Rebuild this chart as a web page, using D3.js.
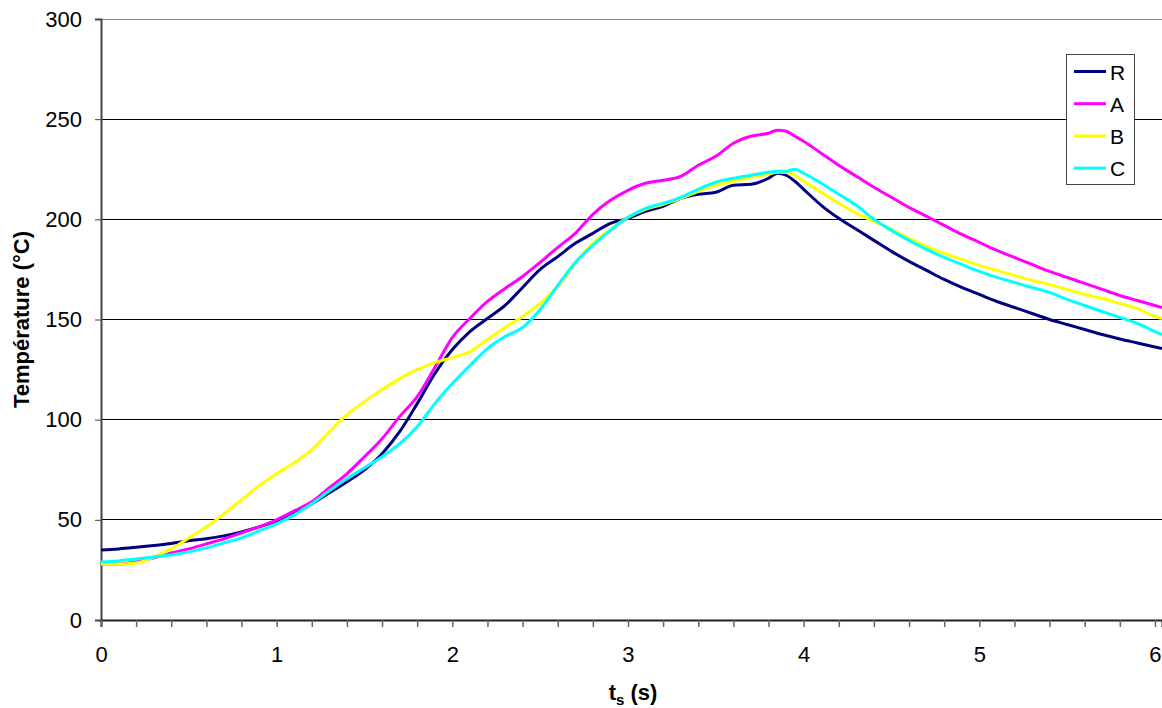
<!DOCTYPE html>
<html><head><meta charset="utf-8">
<script src="https://cdn.jsdelivr.net/npm/d3@7"></script>
<style>body{margin:0;background:#fff;font-family:"Liberation Sans",Arial,sans-serif;}</style>
</head><body>
<svg id="chart" width="1162" height="708"></svg>
<script>
const times = [0,0.1,0.2,0.3,0.4,0.5,0.6,0.7,0.8,0.9,1.0,1.1,1.2,1.3,1.4,1.5,1.6,1.7,1.8,1.9,2.0,2.1,2.2,2.3,2.4,2.5,2.6,2.7,2.8,2.9,3.0,3.1,3.2,3.3,3.4,3.5,3.6,3.7,3.8,3.85,3.9,3.95,4.0,4.1,4.2,4.3,4.4,4.5,4.6,4.7,4.8,4.9,5.0,5.1,5.2,5.3,5.4,5.5,5.6,5.7,5.8,5.9,6.0,6.04];
const seriesR = [35,35.5,36.3,37.2,38.2,39.5,40.6,42,44,46.5,49.5,53.5,58,63.5,69,75,83,94,108,123,135,144,150.5,157,166,175,181.4,188,193,198,200.5,204,206.5,210.5,212.5,213.5,217,217.5,220.5,223,222,219,215,207,200.5,195,189.5,184,179,174.5,170,166,162.5,159,156,153,150,147.5,145,142.5,140.3,138.3,136.3,135.5];
const seriesA = [28,28,29,31,33.5,35.5,38,40.5,43.5,46.5,50,54.5,59,66,73,81.5,90.5,101.5,111.5,126,141,150.5,159,165.5,171.5,178.5,186,193,202.5,209.5,214.5,218,219.5,221.5,227,231.5,238,241.5,243,244.5,244,241.5,239,233,227,221.5,216,211,206,201.5,197,192.5,188.5,184.5,181,177.5,174,171,168,165,162,159.5,157,156];
const seriesB = [28,28,28.5,31.5,35.5,41,46.5,53,60,67,73,78.5,85,94,102.5,109,115,120.5,125,128.5,131,134,140,146,151.5,158,166.5,178,188,195,201,205,207.5,210.5,214,217,219,221,222.5,223.5,223.5,222,219,213.5,208,203,199,195,190.5,186.5,183,180,177,174.5,172,169.5,167.5,165,162.5,160.5,158,155.5,151.5,150.5];
const seriesC = [29,29.5,30.5,31.5,32.5,34,36,38.5,41,44.5,48,52.5,58,64.5,70.5,76,81.5,88,96.5,108,118,127,135.5,141.5,146,155,167,178.5,187,194.5,201,205.5,208,211,215,218.5,220.5,222,223.5,224,224,225,223,218,212.5,207,200,194.5,189.5,185,181,177.5,174,171,168.5,166,163.5,160,157,154,151,148,144,142.5];
const seriesNames = ["R","A","B","C"];
const seriesColors = ["#000080","#FF00FF","#FFFF00","#00FFFF"];
const yTicks = [0,50,100,150,200,250,300];
const xTicks = [0,1,2,3,4,5,6];

const FONT = "Liberation Sans, Arial, sans-serif";
const svg = d3.select("#chart");
const L = 101, R = 1162, T = 19, B = 620;
const x = d3.scaleLinear().domain([0, 6.04]).range([L, R]);
const y = d3.scaleLinear().domain([0, 300]).range([B, T]);

// gridlines
svg.append("g").selectAll("line").data(yTicks.filter(d => d > 0)).join("line")
  .attr("x1", L).attr("x2", R).attr("y1", d => y(d)).attr("y2", d => y(d))
  .attr("stroke", d => d === 300 ? "#888" : "#000").attr("stroke-width", 1)
  .attr("shape-rendering", "crispEdges");

// y axis
const yAxis = svg.append("g").attr("transform", `translate(${L},0)`)
  .call(d3.axisLeft(y).tickValues(yTicks).tickSize(6).tickPadding(13).tickFormat(d3.format("d")));
yAxis.select(".domain").attr("stroke", "#444").attr("stroke-width", 2);
yAxis.selectAll(".tick line").attr("stroke", "#444");
yAxis.selectAll("text").attr("font-size", 22).attr("font-family", FONT).attr("fill", "#000");

// x axis (minor ticks every 0.2)
const minor = d3.range(0, 31).map(i => i * 0.2);
const xAxis = svg.append("g").attr("transform", `translate(0,${B})`)
  .call(d3.axisBottom(x).tickValues(minor).tickSize(7).tickFormat(""));
xAxis.select(".domain").attr("stroke", "#222").attr("stroke-width", 2);
xAxis.selectAll(".tick line").attr("stroke", "#666").attr("stroke-width", 1.5);
const xLab = svg.append("g").attr("transform", `translate(0,${B})`)
  .call(d3.axisBottom(x).tickValues(xTicks).tickSize(0).tickPadding(26).tickFormat(d3.format("d")));
xLab.select(".domain").remove();
xLab.selectAll("text").attr("font-size", 22).attr("font-family", FONT).attr("fill", "#000");

// lines
const allSeries = [seriesR, seriesA, seriesB, seriesC];
const line = d3.line().x((d, i) => x(times[i])).y(d => y(d)).curve(d3.curveMonotoneX);
allSeries.forEach((s, k) => {
  svg.append("path").datum(s).attr("d", line)
    .attr("fill", "none").attr("stroke", seriesColors[k]).attr("stroke-width", 3)
    .attr("stroke-linejoin", "round");
});

// axis titles
svg.append("text").attr("transform", `translate(29,${(T + B) / 2}) rotate(-90)`)
  .attr("text-anchor", "middle").attr("font-size", 22).attr("font-weight", "bold")
  .attr("font-family", FONT).text("Température (°C)");
const xt = svg.append("text").attr("x", 633).attr("y", 700).attr("text-anchor", "middle")
  .attr("font-size", 22).attr("font-weight", "bold").attr("font-family", FONT);
xt.append("tspan").text("t");
xt.append("tspan").attr("font-size", 15).attr("dy", 5).text("s");
xt.append("tspan").attr("dy", -5).text(" (s)");

// legend
const lg = svg.append("g");
lg.append("rect").attr("x", 1066.5).attr("y", 54.5).attr("width", 68).attr("height", 130)
  .attr("fill", "#fff").attr("stroke", "#444").attr("stroke-width", 1);
seriesNames.forEach((n, i) => {
  const cy = 71.5 + i * 32.2;
  lg.append("line").attr("x1", 1074).attr("x2", 1106).attr("y1", cy).attr("y2", cy)
    .attr("stroke", seriesColors[i]).attr("stroke-width", 3);
  lg.append("text").attr("x", 1110).attr("y", cy + 8).attr("font-size", 21)
    .attr("font-family", FONT).text(n);
});
</script>
</body></html>
